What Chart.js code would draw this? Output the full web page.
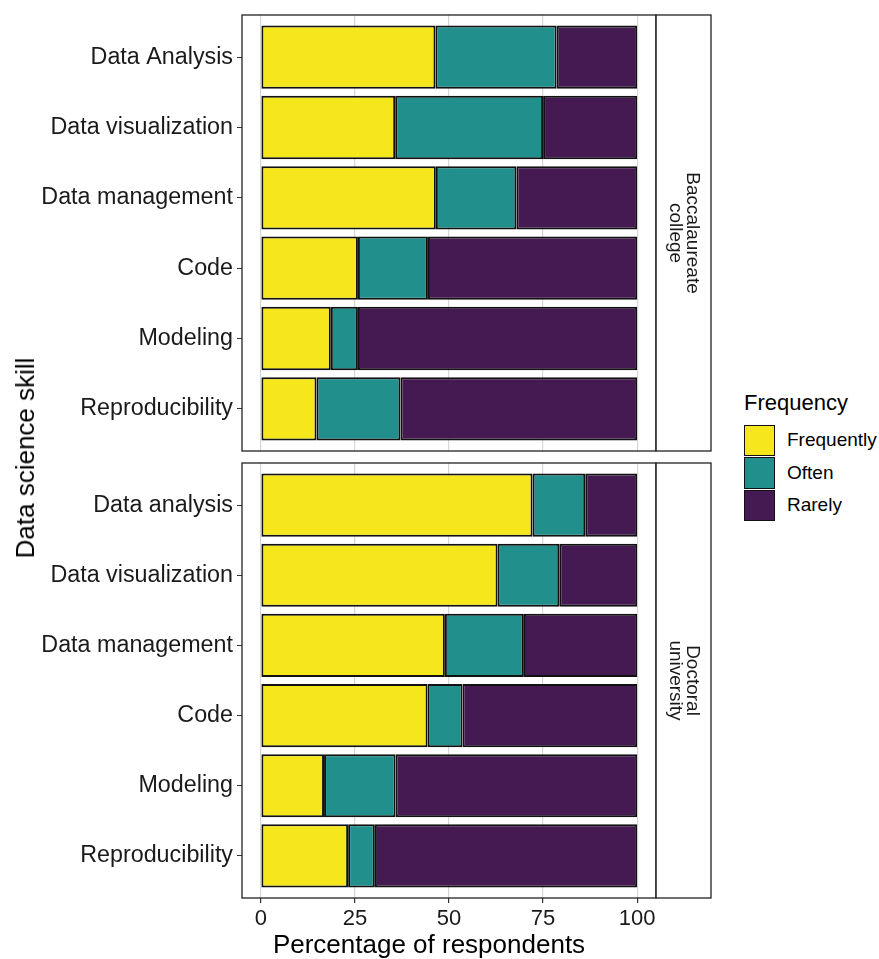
<!DOCTYPE html>
<html>
<head>
<meta charset="utf-8">
<script src="https://cdn.jsdelivr.net/npm/chart.js@4/dist/chart.umd.min.js"></script>
<style>
  body { margin: 0; background: #fff; font-family: "Liberation Sans", Arial, sans-serif; }
  #page { position: relative; width: 879px; height: 959px; overflow: hidden; }
  .panel { position: absolute; left: 0; width: 712px; }
  .ytitle { position: absolute; left: 25px; top: 458px; font-size: 26px; line-height: 26px;
            white-space: nowrap; transform: translate(-50%, -50%) rotate(-90deg); color: #000; }
  .xtitle { position: absolute; left: 229px; width: 400px; top: 931px; text-align: center;
            font-size: 26px; line-height: 26px; white-space: nowrap; color: #000; }
  #legend { position: absolute; left: 744px; top: 390px; }
  #legend .title { font-size: 22px; line-height: 26px; margin-bottom: 8px; }
  #legend .row { display: flex; align-items: center; height: 32.5px; }
  #legend .key { width: 29px; height: 29.5px; border: 1.5px solid #111; }
  #legend .lab { margin-left: 12px; font-size: 19px; }
</style>
</head>
<body>
<div id="page">
  <div class="panel" style="top:0;height:452px"><canvas id="top"></canvas></div>
  <div class="panel" style="top:452px;height:507px"><canvas id="bottom"></canvas></div>
  <div class="ytitle">Data science skill</div>
  <div class="xtitle">Percentage of respondents</div>
  <div id="legend"></div>
</div>
<script>
// data (percent of respondents)
const frequencies = ["Frequently", "Often", "Rarely"];
const colors = ["#F6E71D", "#21908C", "#451A52"];

const baccSkills = ["Data Analysis", "Data visualization", "Data management", "Code", "Modeling", "Reproducibility"];
const baccFrequently = [46.4, 35.7, 46.5, 25.8, 18.6, 14.8];
const baccOften = [32.2, 39.3, 21.4, 18.6, 7.2, 22.3];
const baccRarely = [21.4, 25.0, 32.1, 55.6, 74.2, 62.9];

const docSkills = ["Data analysis", "Data visualization", "Data management", "Code", "Modeling", "Reproducibility"];
const docFrequently = [72.2, 62.9, 48.9, 44.3, 16.8, 23.2];
const docOften = [14.0, 16.4, 21.0, 9.3, 19.0, 7.1];
const docRarely = [13.8, 20.7, 30.1, 46.4, 64.2, 69.7];

const xTicks = [0, 25, 50, 75, 100];

Chart.defaults.font.family = '"Liberation Sans", Arial, sans-serif';
Chart.defaults.color = '#1a1a1a';

// panel border + facet strip on the right
const facetPlugin = {
  id: 'facet',
  afterDraw(chart, args, opts) {
    const { ctx, chartArea: a } = chart;
    ctx.save();
    ctx.strokeStyle = '#222';
    ctx.lineWidth = 1.3;
    ctx.strokeRect(a.left, a.top, a.right - a.left, a.bottom - a.top);
    const sw = 55;
    ctx.fillStyle = '#fff';
    ctx.fillRect(a.right + 0.5, a.top, sw, a.bottom - a.top);
    ctx.strokeRect(a.right, a.top, sw, a.bottom - a.top);
    ctx.translate(a.right + sw / 2, (a.top + a.bottom) / 2);
    ctx.rotate(Math.PI / 2);
    ctx.fillStyle = '#1a1a1a';
    ctx.font = '19px "Liberation Sans", Arial, sans-serif';
    ctx.textAlign = 'center';
    ctx.textBaseline = 'middle';
    const lh = 17;
    opts.lines.forEach((t, i) => {
      ctx.fillText(t, 0, (i - (opts.lines.length - 1) / 2) * lh);
    });
    ctx.restore();
  }
};

function makePanel(id, skills, freq, often, rarely, strip, showX, pad) {
  const series = [freq, often, rarely];
  return new Chart(document.getElementById(id), {
    type: 'bar',
    data: {
      datasets: series.map((vals, k) => ({
        label: frequencies[k],
        data: vals.map((v, i) => ({ x: v, y: i })),
        backgroundColor: colors[k],
        borderColor: '#111',
        borderWidth: 2,
        borderSkipped: false,
        barPercentage: 0.9,
        categoryPercentage: 1
      }))
    },
    options: {
      indexAxis: 'y',
      responsive: true,
      maintainAspectRatio: false,
      animation: false,
      layout: { padding: pad },
      plugins: { legend: { display: false }, tooltip: { enabled: false }, facet: { lines: strip } },
      scales: {
        x: {
          type: 'linear', min: -5, max: 105, stacked: true,
          afterBuildTicks: s => { s.ticks = xTicks.map(v => ({ value: v })); },
          afterFit: s => { s.height = showX ? 61 : 0; s.paddingLeft = 0; s.paddingRight = 0; },
          grid: { color: '#d6d6d6', lineWidth: 1.2, tickColor: '#333', tickLength: 5, drawTicks: showX },
          border: { display: false },
          ticks: { display: showX, padding: 3, font: { size: 22 }, color: '#1a1a1a' }
        },
        y: {
          type: 'linear', min: -0.6, max: skills.length - 0.4, reverse: true, stacked: true,
          offset: false,
          afterBuildTicks: s => { s.ticks = skills.map((_, i) => ({ value: i })); },
          afterFit: s => { s.width = 242; s.paddingTop = 0; s.paddingBottom = 0; },
          grid: { offset: false, drawOnChartArea: false, tickColor: '#333', tickLength: 5 },
          border: { display: false },
          ticks: { padding: 4, font: { size: 23.3 }, color: '#1a1a1a', callback: v => skills[v] }
        }
      }
    },
    plugins: [facetPlugin]
  });
}

makePanel('top', baccSkills, baccFrequently, baccOften, baccRarely,
  ['Baccalaureate', 'college'], false, { top: 15, bottom: 1, right: 56, left: 0 });
makePanel('bottom', docSkills, docFrequently, docOften, docRarely,
  ['Doctoral', 'university'], true, { top: 11, bottom: 0, right: 56, left: 0 });

// legend
const leg = document.getElementById('legend');
leg.innerHTML = '<div class="title">Frequency</div>' + frequencies.map((f, k) =>
  '<div class="row"><div class="key" style="background:' + colors[k] + '"></div><div class="lab">' + f + '</div></div>'
).join('');
</script>
</body>
</html>
